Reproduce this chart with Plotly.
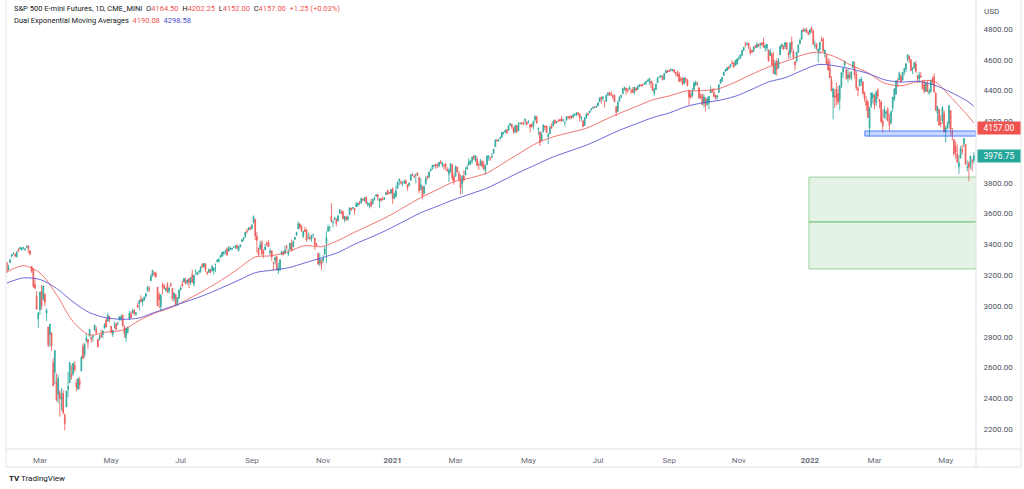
import pandas as pd
import plotly.graph_objects as go

# ---------------- data (daily bars: [open, high, low, close]) ----------------
holidays = ["2020-02-17", "2020-04-10", "2020-05-25", "2020-07-03", "2020-09-07", "2020-11-26",
            "2020-12-25", "2021-01-01", "2021-01-18", "2021-02-15", "2021-04-02", "2021-05-31",
            "2021-07-05", "2021-09-06", "2021-11-25", "2021-12-24", "2022-01-17", "2022-02-21",
            "2022-04-15"]

m2020_01 = [[3282, 3283, 3214, 3225]]
m2020_02 = [[3235, 3268, 3235, 3248], [3281, 3306, 3281, 3298], [3324, 3337, 3313, 3334], [3344, 3347, 3333, 3345],
            [3335, 3342, 3315, 3327], [3318, 3352, 3317, 3352], [3365, 3375, 3352, 3357], [3370, 3381, 3369, 3379],
            [3365, 3385, 3360, 3373], [3378, 3380, 3367, 3380], [3369, 3375, 3357, 3370], [3380, 3397, 3380, 3386],
            [3388, 3393, 3343, 3373], [3360, 3361, 3328, 3338], [3257, 3259, 3214, 3225], [3238, 3246, 3118, 3128],
            [3140, 3182, 3108, 3116], [3063, 3097, 2977, 2979], [2916, 2959, 2855, 2954]]
m2020_03 = [[2974, 3090, 2945, 3090], [3096, 3136, 2976, 3003], [3045, 3130, 3034, 3130], [3075, 3083, 2999, 3024],
            [2954, 2985, 2901, 2972], [2863, 2863, 2734, 2747], [2813, 2882, 2734, 2882], [2825, 2825, 2707, 2741],
            [2630, 2660, 2478, 2481], [2569, 2711, 2492, 2711], [2508, 2562, 2380, 2386], [2425, 2553, 2367, 2529],
            [2436, 2453, 2280, 2398], [2393, 2466, 2319, 2409], [2431, 2453, 2295, 2305], [2290, 2300, 2191, 2237],
            [2344, 2449, 2344, 2447], [2457, 2571, 2407, 2476], [2501, 2637, 2500, 2630], [2555, 2615, 2520, 2541],
            [2558, 2631, 2545, 2627], [2614, 2641, 2572, 2585]]
m2020_04 = [[2498, 2522, 2447, 2470], [2459, 2533, 2455, 2527], [2514, 2538, 2459, 2489], [2578, 2676, 2574, 2664],
            [2738, 2756, 2657, 2659], [2685, 2760, 2663, 2750], [2776, 2819, 2762, 2790], [2782, 2783, 2721, 2762],
            [2805, 2852, 2796, 2846], [2795, 2801, 2761, 2784], [2800, 2815, 2767, 2800], [2842, 2880, 2842, 2875],
            [2845, 2868, 2820, 2823], [2784, 2785, 2727, 2737], [2787, 2815, 2775, 2799], [2810, 2844, 2794, 2798],
            [2813, 2842, 2791, 2837], [2855, 2887, 2854, 2878], [2909, 2921, 2860, 2863], [2901, 2955, 2900, 2940],
            [2931, 2931, 2892, 2912]]
m2020_05 = [[2869, 2869, 2821, 2830], [2815, 2844, 2798, 2842], [2868, 2898, 2852, 2868], [2883, 2892, 2844, 2848],
            [2879, 2901, 2876, 2881], [2908, 2932, 2908, 2929], [2915, 2944, 2903, 2930], [2939, 2945, 2869, 2870],
            [2865, 2874, 2793, 2820], [2794, 2852, 2766, 2852], [2829, 2865, 2821, 2863], [2913, 2968, 2913, 2953],
            [2948, 2964, 2922, 2922], [2953, 2980, 2953, 2972], [2970, 2979, 2938, 2949], [2948, 2956, 2934, 2955],
            [3004, 3021, 2988, 2991], [3015, 3036, 2969, 3036], [3046, 3068, 3023, 3029], [3025, 3050, 2998, 3044]]
m2020_06 = [[3038, 3063, 3031, 3055], [3064, 3081, 3052, 3081], [3098, 3131, 3091, 3122], [3112, 3128, 3090, 3112],
            [3163, 3211, 3162, 3194], [3199, 3233, 3190, 3232], [3213, 3222, 3193, 3207], [3213, 3223, 3182, 3190],
            [3123, 3123, 2999, 3002], [3071, 3089, 2984, 3041], [2994, 3079, 2965, 3067], [3132, 3154, 3076, 3125],
            [3137, 3141, 3109, 3113], [3101, 3120, 3093, 3115], [3140, 3155, 3083, 3097], [3094, 3120, 3079, 3117],
            [3138, 3154, 3122, 3131], [3115, 3115, 3033, 3050], [3047, 3086, 3025, 3083], [3074, 3074, 3004, 3009],
            [3019, 3053, 2999, 3053], [3050, 3111, 3047, 3100]]
m2020_07 = [[3105, 3128, 3101, 3115], [3143, 3165, 3124, 3130], [3155, 3182, 3155, 3179], [3166, 3184, 3142, 3145],
            [3154, 3171, 3136, 3169], [3176, 3179, 3115, 3152], [3152, 3187, 3136, 3185], [3205, 3235, 3149, 3155],
            [3141, 3200, 3127, 3197], [3226, 3238, 3200, 3227], [3209, 3220, 3199, 3215], [3224, 3233, 3205, 3224],
            [3224, 3258, 3215, 3251], [3268, 3277, 3247, 3257], [3254, 3279, 3248, 3276], [3271, 3279, 3222, 3236],
            [3218, 3227, 3200, 3215], [3219, 3241, 3214, 3239], [3234, 3243, 3216, 3218], [3227, 3264, 3226, 3258],
            [3231, 3250, 3204, 3246], [3270, 3272, 3220, 3271]]
m2020_08 = [[3288, 3302, 3285, 3295], [3289, 3307, 3282, 3306], [3317, 3331, 3314, 3327], [3323, 3351, 3318, 3349],
            [3341, 3353, 3329, 3351], [3356, 3363, 3335, 3360], [3370, 3381, 3326, 3333], [3355, 3387, 3355, 3380],
            [3372, 3387, 3363, 3373], [3368, 3378, 3361, 3373], [3380, 3387, 3379, 3381], [3387, 3395, 3370, 3389],
            [3392, 3399, 3369, 3375], [3360, 3390, 3354, 3385], [3386, 3399, 3379, 3397], [3419, 3432, 3414, 3431],
            [3435, 3444, 3421, 3443], [3449, 3481, 3444, 3479], [3486, 3501, 3469, 3484], [3495, 3510, 3490, 3508],
            [3509, 3514, 3493, 3500]]
m2020_09 = [[3507, 3528, 3494, 3527], [3543, 3588, 3535, 3580], [3564, 3564, 3427, 3455], [3453, 3479, 3349, 3427],
            [3371, 3379, 3329, 3331], [3369, 3424, 3366, 3398], [3412, 3425, 3329, 3339], [3352, 3368, 3310, 3341],
            [3363, 3403, 3363, 3383], [3407, 3419, 3389, 3401], [3411, 3428, 3384, 3385], [3346, 3375, 3328, 3357],
            [3357, 3362, 3293, 3319], [3285, 3285, 3229, 3281], [3295, 3320, 3270, 3315], [3320, 3323, 3232, 3237],
            [3226, 3279, 3209, 3246], [3237, 3306, 3228, 3298], [3334, 3360, 3332, 3351], [3350, 3358, 3327, 3335],
            [3341, 3393, 3340, 3363]]
m2020_10 = [[3385, 3397, 3361, 3381], [3338, 3369, 3323, 3348], [3367, 3409, 3367, 3408], [3408, 3431, 3354, 3361],
            [3384, 3426, 3384, 3419], [3434, 3447, 3428, 3446], [3459, 3483, 3456, 3477], [3500, 3549, 3500, 3534],
            [3534, 3534, 3500, 3511], [3515, 3527, 3481, 3488], [3453, 3489, 3440, 3483], [3494, 3515, 3483, 3484],
            [3493, 3502, 3419, 3427], [3440, 3477, 3440, 3443], [3440, 3465, 3431, 3436], [3439, 3461, 3416, 3453],
            [3464, 3466, 3440, 3465], [3441, 3441, 3364, 3400], [3403, 3409, 3388, 3391], [3343, 3343, 3268, 3271],
            [3278, 3342, 3257, 3310], [3293, 3304, 3233, 3270]]
m2020_11 = [[3296, 3330, 3279, 3310], [3336, 3389, 3336, 3370], [3406, 3486, 3280, 3443], [3485, 3529, 3485, 3510],
            [3508, 3521, 3484, 3509], [3583, 3668, 3544, 3550], [3544, 3557, 3511, 3545], [3563, 3581, 3557, 3572],
            [3563, 3569, 3518, 3537], [3552, 3593, 3552, 3585], [3601, 3628, 3601, 3627], [3610, 3624, 3595, 3610],
            [3612, 3620, 3567, 3567], [3559, 3585, 3543, 3582], [3579, 3582, 3556, 3558], [3566, 3589, 3552, 3578],
            [3594, 3642, 3594, 3636], [3635, 3638, 3617, 3629], [3638, 3644, 3629, 3638], [3634, 3635, 3594, 3622]]
m2020_12 = [[3645, 3678, 3645, 3662], [3653, 3670, 3645, 3669], [3669, 3682, 3657, 3666], [3670, 3699, 3664, 3699],
            [3694, 3697, 3679, 3691], [3683, 3708, 3678, 3702], [3705, 3712, 3660, 3673], [3659, 3678, 3645, 3668],
            [3656, 3665, 3634, 3663], [3675, 3698, 3645, 3647], [3666, 3695, 3660, 3695], [3696, 3711, 3685, 3702],
            [3713, 3725, 3710, 3722], [3722, 3726, 3685, 3709], [3684, 3702, 3636, 3694], [3698, 3698, 3676, 3687],
            [3693, 3711, 3689, 3690], [3694, 3703, 3690, 3703], [3723, 3740, 3723, 3735], [3750, 3756, 3723, 3727],
            [3736, 3744, 3731, 3732], [3733, 3760, 3726, 3756]]
m2021_01 = [[3764, 3770, 3663, 3700], [3698, 3737, 3695, 3726], [3712, 3783, 3705, 3748], [3764, 3811, 3764, 3803],
            [3815, 3826, 3784, 3824], [3803, 3817, 3789, 3799], [3801, 3810, 3776, 3801], [3802, 3820, 3791, 3809],
            [3814, 3823, 3792, 3795], [3788, 3788, 3749, 3768], [3781, 3804, 3780, 3798], [3816, 3859, 3816, 3851],
            [3857, 3861, 3845, 3853], [3844, 3852, 3830, 3841], [3851, 3859, 3797, 3855], [3862, 3870, 3847, 3849],
            [3836, 3836, 3732, 3750], [3755, 3830, 3755, 3787], [3778, 3778, 3694, 3714]]
m2021_02 = [[3731, 3784, 3725, 3774], [3791, 3843, 3791, 3826], [3840, 3848, 3822, 3830], [3837, 3872, 3834, 3871],
            [3878, 3894, 3874, 3886], [3892, 3915, 3886, 3915], [3910, 3919, 3903, 3911], [3920, 3926, 3891, 3910],
            [3917, 3925, 3896, 3916], [3911, 3935, 3900, 3934], [3939, 3950, 3924, 3932], [3918, 3933, 3901, 3931],
            [3915, 3921, 3885, 3913], [3921, 3931, 3884, 3906], [3886, 3902, 3874, 3876], [3857, 3895, 3805, 3881],
            [3873, 3928, 3866, 3925], [3915, 3925, 3814, 3829], [3839, 3861, 3789, 3811]]
m2021_03 = [[3842, 3914, 3842, 3901], [3903, 3906, 3868, 3870], [3863, 3874, 3818, 3820], [3818, 3852, 3723, 3768],
            [3794, 3851, 3730, 3841], [3844, 3881, 3808, 3821], [3851, 3904, 3851, 3875], [3891, 3918, 3885, 3898],
            [3915, 3960, 3915, 3939], [3924, 3944, 3916, 3943], [3942, 3970, 3924, 3968], [3973, 3981, 3949, 3962],
            [3949, 3983, 3935, 3974], [3953, 3969, 3910, 3915], [3913, 3930, 3884, 3913], [3916, 3956, 3910, 3940],
            [3937, 3950, 3901, 3910], [3919, 3942, 3889, 3889], [3879, 3919, 3853, 3909], [3917, 3978, 3917, 3974],
            [3969, 3981, 3943, 3971], [3963, 3968, 3944, 3958], [3967, 3994, 3966, 3972]]
m2021_04 = [[3992, 4020, 3992, 4019], [4034, 4083, 4034, 4077], [4076, 4086, 4068, 4073], [4075, 4083, 4068, 4079],
            [4089, 4098, 4082, 4097], [4096, 4129, 4095, 4128], [4124, 4131, 4114, 4127], [4131, 4148, 4124, 4141],
            [4141, 4151, 4120, 4124], [4140, 4173, 4140, 4170], [4174, 4191, 4171, 4185], [4180, 4180, 4150, 4163],
            [4159, 4160, 4118, 4134], [4128, 4175, 4126, 4173], [4170, 4179, 4123, 4135], [4138, 4194, 4138, 4180],
            [4185, 4194, 4182, 4187], [4188, 4193, 4176, 4186], [4185, 4201, 4181, 4183], [4206, 4219, 4177, 4211],
            [4198, 4198, 4174, 4181]]
m2021_05 = [[4191, 4209, 4188, 4192], [4179, 4179, 4128, 4164], [4177, 4187, 4158, 4167], [4170, 4202, 4147, 4201],
            [4210, 4238, 4201, 4232], [4228, 4236, 4188, 4188], [4150, 4162, 4111, 4152], [4130, 4134, 4040, 4063],
            [4074, 4131, 4074, 4112], [4130, 4183, 4130, 4174], [4169, 4171, 4143, 4163], [4169, 4170, 4125, 4128],
            [4098, 4125, 4052, 4116], [4121, 4173, 4118, 4159], [4168, 4188, 4151, 4156], [4170, 4210, 4170, 4197],
            [4205, 4213, 4182, 4188], [4191, 4202, 4188, 4195], [4201, 4213, 4198, 4200], [4210, 4218, 4203, 4204]]
m2021_06 = [[4216, 4234, 4197, 4202], [4207, 4217, 4198, 4208], [4191, 4204, 4168, 4192], [4207, 4233, 4207, 4230],
            [4229, 4232, 4215, 4226], [4233, 4236, 4210, 4227], [4233, 4238, 4219, 4220], [4229, 4249, 4221, 4239],
            [4243, 4249, 4233, 4247], [4248, 4255, 4234, 4255], [4255, 4257, 4238, 4246], [4248, 4251, 4196, 4223],
            [4220, 4233, 4203, 4222], [4204, 4204, 4164, 4166], [4174, 4226, 4174, 4224], [4225, 4256, 4217, 4246],
            [4249, 4256, 4241, 4242], [4256, 4271, 4256, 4266], [4274, 4286, 4271, 4280], [4285, 4292, 4281, 4291],
            [4293, 4300, 4287, 4291], [4291, 4302, 4287, 4297]]
m2021_07 = [[4300, 4321, 4300, 4320], [4327, 4355, 4326, 4352], [4357, 4359, 4314, 4344], [4351, 4362, 4334, 4358],
            [4322, 4336, 4290, 4321], [4330, 4372, 4330, 4370], [4373, 4387, 4363, 4385], [4381, 4393, 4367, 4369],
            [4380, 4393, 4363, 4375], [4369, 4369, 4341, 4360], [4368, 4375, 4323, 4327], [4297, 4297, 4233, 4259],
            [4265, 4336, 4260, 4323], [4331, 4359, 4329, 4359], [4361, 4369, 4351, 4368], [4382, 4415, 4373, 4412],
            [4409, 4422, 4398, 4422], [4416, 4416, 4372, 4402], [4402, 4415, 4387, 4401], [4410, 4430, 4403, 4419],
            [4396, 4412, 4378, 4395]]
m2021_08 = [[4406, 4422, 4384, 4387], [4392, 4423, 4373, 4423], [4416, 4417, 4399, 4402], [4407, 4430, 4405, 4429],
            [4429, 4440, 4422, 4437], [4437, 4440, 4425, 4432], [4437, 4445, 4429, 4436], [4442, 4450, 4436, 4448],
            [4447, 4461, 4436, 4460], [4464, 4468, 4457, 4468], [4461, 4480, 4437, 4479], [4462, 4462, 4417, 4448],
            [4440, 4455, 4397, 4400], [4382, 4418, 4367, 4406], [4406, 4444, 4405, 4442], [4450, 4489, 4450, 4480],
            [4484, 4492, 4482, 4486], [4490, 4501, 4486, 4497], [4493, 4496, 4469, 4470], [4474, 4513, 4466, 4509],
            [4514, 4537, 4513, 4529], [4529, 4532, 4515, 4523]]
m2021_09 = [[4529, 4538, 4523, 4524], [4534, 4545, 4524, 4537], [4533, 4540, 4525, 4535], [4536, 4536, 4513, 4520],
            [4518, 4521, 4493, 4514], [4513, 4529, 4493, 4493], [4506, 4521, 4457, 4458], [4474, 4491, 4456, 4469],
            [4479, 4485, 4435, 4443], [4447, 4486, 4439, 4481], [4477, 4485, 4448, 4474], [4470, 4471, 4427, 4433],
            [4403, 4403, 4306, 4358], [4375, 4394, 4347, 4354], [4368, 4416, 4358, 4396], [4407, 4457, 4407, 4449],
            [4438, 4463, 4429, 4455], [4443, 4457, 4428, 4443], [4419, 4419, 4346, 4353], [4363, 4381, 4345, 4360],
            [4370, 4383, 4306, 4308]]
m2021_10 = [[4317, 4375, 4289, 4357], [4348, 4356, 4265, 4300], [4310, 4358, 4303, 4345], [4319, 4365, 4278, 4363],
            [4384, 4429, 4384, 4399], [4406, 4413, 4386, 4391], [4385, 4415, 4360, 4361], [4368, 4374, 4342, 4350],
            [4358, 4372, 4340, 4364], [4387, 4439, 4387, 4438], [4447, 4475, 4447, 4471], [4464, 4488, 4453, 4486],
            [4497, 4520, 4496, 4520], [4524, 4540, 4524, 4537], [4532, 4551, 4527, 4549], [4550, 4560, 4538, 4545],
            [4553, 4572, 4547, 4567], [4579, 4598, 4569, 4575], [4580, 4584, 4551, 4551], [4563, 4598, 4563, 4596],
            [4573, 4608, 4567, 4605]]
m2021_11 = [[4610, 4620, 4595, 4614], [4613, 4635, 4604, 4631], [4630, 4664, 4623, 4660], [4662, 4684, 4657, 4680],
            [4699, 4718, 4681, 4697], [4701, 4714, 4694, 4702], [4707, 4708, 4670, 4685], [4670, 4685, 4630, 4646],
            [4659, 4665, 4647, 4649], [4655, 4688, 4650, 4682], [4689, 4697, 4673, 4682], [4680, 4714, 4679, 4700],
            [4701, 4701, 4684, 4688], [4700, 4708, 4672, 4704], [4708, 4717, 4694, 4698], [4712, 4743, 4680, 4682],
            [4679, 4699, 4652, 4690], [4675, 4702, 4659, 4701], [4664, 4664, 4586, 4595], [4628, 4672, 4625, 4655],
            [4640, 4646, 4560, 4567]]
m2021_12 = [[4602, 4652, 4510, 4513], [4505, 4595, 4504, 4577], [4590, 4608, 4495, 4538], [4548, 4612, 4541, 4592],
            [4632, 4694, 4632, 4686], [4690, 4705, 4671, 4701], [4691, 4695, 4665, 4668], [4688, 4713, 4670, 4712],
            [4710, 4711, 4666, 4669], [4642, 4660, 4606, 4634], [4637, 4712, 4611, 4709], [4719, 4751, 4647, 4668],
            [4652, 4666, 4600, 4620], [4587, 4591, 4531, 4568], [4594, 4651, 4583, 4649], [4650, 4698, 4645, 4697],
            [4703, 4740, 4703, 4725], [4733, 4791, 4733, 4791], [4795, 4807, 4780, 4786], [4788, 4804, 4778, 4793],
            [4795, 4808, 4775, 4778], [4775, 4787, 4765, 4766]]
m2022_01 = [[4778, 4797, 4758, 4797], [4804, 4818, 4774, 4793], [4787, 4797, 4700, 4701], [4693, 4725, 4671, 4696],
            [4698, 4708, 4663, 4677], [4656, 4673, 4582, 4670], [4670, 4714, 4637, 4713], [4728, 4749, 4718, 4726],
            [4733, 4745, 4650, 4660], [4638, 4665, 4614, 4663], [4632, 4633, 4568, 4577], [4588, 4612, 4531, 4533],
            [4547, 4603, 4477, 4483], [4471, 4494, 4395, 4398], [4357, 4418, 4212, 4410], [4366, 4411, 4287, 4357],
            [4408, 4453, 4305, 4350], [4380, 4428, 4309, 4326], [4337, 4432, 4273, 4432], [4431, 4516, 4415, 4516]]
m2022_02 = [[4519, 4546, 4483, 4546], [4566, 4595, 4544, 4589], [4536, 4542, 4471, 4477], [4482, 4540, 4451, 4501],
            [4505, 4521, 4470, 4484], [4481, 4525, 4465, 4521], [4548, 4590, 4548, 4587], [4554, 4588, 4478, 4504],
            [4507, 4527, 4402, 4419], [4412, 4427, 4364, 4402], [4430, 4472, 4429, 4472], [4456, 4490, 4430, 4475],
            [4457, 4457, 4374, 4380], [4384, 4394, 4328, 4349], [4332, 4363, 4268, 4305], [4325, 4340, 4222, 4226],
            [4156, 4295, 4101, 4288], [4298, 4385, 4287, 4385], [4354, 4389, 4317, 4374]]
m2022_03 = [[4363, 4375, 4279, 4306], [4322, 4401, 4298, 4387], [4401, 4416, 4345, 4364], [4342, 4343, 4285, 4329],
            [4327, 4327, 4189, 4201], [4202, 4276, 4129, 4171], [4223, 4299, 4223, 4278], [4253, 4268, 4210, 4260],
            [4279, 4292, 4200, 4204], [4202, 4248, 4136, 4173], [4188, 4271, 4187, 4262], [4289, 4357, 4262, 4358],
            [4345, 4412, 4330, 4412], [4377, 4465, 4372, 4463], [4462, 4481, 4424, 4462], [4469, 4522, 4469, 4512],
            [4493, 4502, 4455, 4456], [4469, 4520, 4465, 4520], [4523, 4546, 4501, 4543], [4541, 4575, 4518, 4575],
            [4603, 4637, 4585, 4632], [4624, 4627, 4581, 4602], [4600, 4603, 4530, 4530]]
m2022_04 = [[4540, 4549, 4507, 4545], [4547, 4583, 4539, 4583], [4572, 4593, 4514, 4525], [4495, 4503, 4450, 4481],
            [4475, 4521, 4450, 4500], [4494, 4521, 4485, 4488], [4462, 4464, 4408, 4413], [4437, 4471, 4381, 4397],
            [4395, 4453, 4392, 4447], [4449, 4461, 4390, 4392], [4385, 4410, 4370, 4391], [4390, 4471, 4390, 4463],
            [4473, 4489, 4441, 4459], [4489, 4512, 4384, 4394], [4385, 4385, 4267, 4272], [4255, 4299, 4200, 4297],
            [4278, 4278, 4175, 4175], [4187, 4240, 4162, 4183], [4207, 4300, 4184, 4288], [4253, 4270, 4131, 4132]]
m2022_05 = [[4130, 4169, 4062, 4155], [4159, 4200, 4147, 4175], [4181, 4308, 4152, 4300], [4270, 4270, 4106, 4147],
            [4129, 4158, 4077, 4123], [4081, 4081, 3975, 3991], [4035, 4068, 3957, 4001], [3991, 4050, 3928, 3936],
            [3904, 3981, 3859, 3930], [3963, 4039, 3957, 4024], [4013, 4047, 3984, 4008], [4053, 4090, 4032, 4088],
            [4051, 4052, 3914, 3924], [3900, 3946, 3875, 3901], [3927, 3943, 3810, 3901], [3919, 3976, 3890, 3974],
            [3942, 3955, 3875, 3941], [3945, 3999, 3925, 3976.75]]

# Dual EMA values read every 10th bar (plus the last bar)
ema_fast = [3220, 3262, 3215, 3074, 2898, 2811, 2830, 2843, 2906, 2956,
            2992, 3047, 3106, 3171, 3243, 3318, 3326, 3353, 3392, 3385,
            3425, 3479, 3529, 3581, 3642, 3704, 3756, 3807, 3832, 3864,
            3929, 3995, 4058, 4099, 4127, 4155, 4204, 4252, 4296, 4339,
            4365, 4396, 4399, 4412, 4455, 4506, 4553, 4589, 4630, 4650,
            4620, 4564, 4516, 4448, 4431, 4458, 4461, 4358, 4241, 4190.08]
ema_slow = [3149, 3182, 3172, 3114, 3026, 2956, 2923, 2913, 2922, 2961,
            2998, 3034, 3073, 3119, 3167, 3216, 3232, 3248, 3280, 3312,
            3347, 3401, 3447, 3496, 3551, 3606, 3648, 3691, 3728, 3766,
            3818, 3871, 3920, 3969, 4007, 4045, 4093, 4142, 4183, 4224,
            4254, 4295, 4320, 4336, 4363, 4408, 4456, 4483, 4529, 4569,
            4561, 4540, 4511, 4470, 4455, 4460, 4436, 4389, 4332, 4298.58]

tick_months = ["2020-03", "2020-05", "2020-07", "2020-09", "2020-11", "2021-01", "2021-03",
               "2021-05", "2021-07", "2021-09", "2021-11", "2022-01", "2022-03", "2022-05"]
tick_text = ["Mar", "May", "Jul", "Sep", "Nov", "<b>2021</b>", "Mar",
             "May", "Jul", "Sep", "Nov", "<b>2022</b>", "Mar", "May"]

price_ticks = [2200, 2400, 2600, 2800, 3000, 3200, 3400, 3600, 3800, 4000, 4200, 4400, 4600, 4800]

green_zones = [(3546, 3838), (3240, 3546)]
green_zone_start = "2021-12-31"
blue_zone = (4104, 4137)
blue_zone_start = "2022-02-18"
red_badge_value = 4157.00
last_price = 3976.75

# ---------------- build ----------------
dates = [d for d in pd.bdate_range("2020-01-31", "2022-05-25") if d.strftime("%Y-%m-%d") not in holidays]
months = [m2020_01, m2020_02, m2020_03, m2020_04, m2020_05, m2020_06, m2020_07, m2020_08, m2020_09,
          m2020_10, m2020_11, m2020_12, m2021_01, m2021_02, m2021_03, m2021_04, m2021_05, m2021_06,
          m2021_07, m2021_08, m2021_09, m2021_10, m2021_11, m2021_12, m2022_01, m2022_02, m2022_03,
          m2022_04, m2022_05]
bars = [row for m in months for row in m]
assert len(bars) == len(dates), (len(bars), len(dates))

n = len(dates)
xs = list(range(n))
opens = [b[0] for b in bars]
highs = [b[1] for b in bars]
lows = [b[2] for b in bars]
closes = [b[3] for b in bars]
ema_x = list(range(0, n - 4, 10)) + [n - 1]
ema_x = ema_x[:len(ema_fast)]

date_str = [d.strftime("%Y-%m-%d") for d in dates]
ym = [d.strftime("%Y-%m") for d in dates]
tickvals = [ym.index(m) for m in tick_months]

UP = "#26a69a"
DOWN = "#ef5350"
FONT = "Roboto"

fig = go.Figure()
fig.add_trace(go.Candlestick(
    x=xs, open=opens, high=highs, low=lows, close=closes,
    increasing=dict(line=dict(color=UP, width=0.8), fillcolor="rgba(38,166,154,0.75)"),
    decreasing=dict(line=dict(color=DOWN, width=0.8), fillcolor="rgba(239,83,80,0.75)"),
    whiskerwidth=0, showlegend=False, hoverinfo="skip"))
fig.add_trace(go.Scatter(x=ema_x, y=ema_fast, mode="lines",
                         line=dict(color="rgba(239,83,80,0.8)", width=1, shape="spline", smoothing=0.8),
                         showlegend=False, hoverinfo="skip"))
fig.add_trace(go.Scatter(x=ema_x, y=ema_slow, mode="lines",
                         line=dict(color="rgba(80,80,210,0.85)", width=1, shape="spline", smoothing=0.8),
                         showlegend=False, hoverinfo="skip"))

shapes = []
gx0 = date_str.index(green_zone_start) + 0.4
for lo, hi in green_zones:
    shapes.append(dict(type="rect", xref="x", yref="y", x0=gx0, x1=n + 2, y0=lo, y1=hi,
                       fillcolor="rgba(76,175,80,0.15)", line=dict(color="rgba(76,175,80,0.5)", width=1),
                       layer="above"))
bx0 = date_str.index(blue_zone_start) + 0.2
shapes.append(dict(type="rect", xref="x", yref="y", x0=bx0, x1=n + 0.2, y0=blue_zone[0], y1=blue_zone[1],
                   fillcolor="rgba(41,98,255,0.25)", line=dict(color="rgba(41,98,255,0.8)", width=1),
                   layer="above"))

# frame lines (pixel -> paper)
W_PLOT, H_PLOT, L, T = 970, 449, 6, 0
def px(x):
    return (x - L) / W_PLOT
def py(y):
    return (H_PLOT - y) / H_PLOT
FRAME = "#e0e3eb"
shapes += [
    dict(type="line", xref="paper", yref="paper", x0=0, x1=0, y0=1, y1=py(467), line=dict(color=FRAME, width=1)),
    dict(type="line", xref="paper", yref="paper", x0=1, x1=1, y0=1, y1=py(467), line=dict(color=FRAME, width=1)),
    dict(type="line", xref="paper", yref="paper", x0=px(1021), x1=px(1021), y0=1, y1=py(467), line=dict(color=FRAME, width=1)),
    dict(type="line", xref="paper", yref="paper", x0=0, x1=px(1021), y0=0, y1=0, line=dict(color=FRAME, width=1)),
    dict(type="line", xref="paper", yref="paper", x0=0, x1=px(1021), y0=py(467), y1=py(467), line=dict(color=FRAME, width=1)),
]

TXT = "#131722"
nb = "\u00a0"
hdr1 = ("S&amp;P 500 E-mini Futures, 1D, CME_MINI" + nb * 2 +
        f"O<span style='color:{DOWN}'>4164.50</span>" + nb * 2 +
        f"H<span style='color:{DOWN}'>4202.25</span>" + nb * 2 +
        f"L<span style='color:{DOWN}'>4152.00</span>" + nb * 2 +
        f"C<span style='color:{DOWN}'>4157.00</span>" + nb * 2 +
        f"<span style='color:{DOWN}'>+1.25 (+0.03%)</span>")
hdr2 = ("Dual Exponential Moving Averages" + nb * 2 +
        f"<span style='color:{DOWN}'>4190.08</span>" + nb * 2 +
        "<span style='color:#4a4ad0'>4298.58</span>")

annotations = [
    dict(x=px(12), y=py(9), xref="paper", yref="paper", xanchor="left", yanchor="middle", showarrow=False,
         text=hdr1, font=dict(family=FONT, size=7.5, color=TXT)),
    dict(x=px(12), y=py(21), xref="paper", yref="paper", xanchor="left", yanchor="middle", showarrow=False,
         text=hdr2, font=dict(family=FONT, size=7.5, color=TXT)),
    dict(x=px(982), y=py(12), xref="paper", yref="paper", xanchor="left", yanchor="middle", showarrow=False,
         text="USD", font=dict(family=FONT, size=8, color="#4c525e")),
    dict(x=px(977), y=red_badge_value, xref="paper", yref="y", xanchor="left", yanchor="middle", showarrow=False,
         text=f"{red_badge_value:.2f}", font=dict(family=FONT, size=8.5, color="white"),
         bgcolor=DOWN, width=40, height=10, borderpad=1, align="center"),
    dict(x=px(977), y=last_price, xref="paper", yref="y", xanchor="left", yanchor="middle", showarrow=False,
         text=f"{last_price:.2f}", font=dict(family=FONT, size=8.5, color="white"),
         bgcolor=UP, width=40, height=10, borderpad=1, align="center"),
    dict(x=px(7), y=py(478), xref="paper", yref="paper", xanchor="left", yanchor="middle", showarrow=False,
         text="<b>TV</b> TradingView", font=dict(family=FONT, size=8, color=TXT)),
]

fig.update_layout(
    width=1024, height=489, margin=dict(l=L, r=1024 - L - W_PLOT, t=T, b=489 - H_PLOT),
    paper_bgcolor="white", plot_bgcolor="white", showlegend=False,
    shapes=shapes, annotations=annotations, hovermode=False,
    xaxis=dict(range=[-0.5, 585.3], rangeslider=dict(visible=False), showgrid=False, zeroline=False,
               tickmode="array", tickvals=tickvals, ticktext=tick_text, ticks="outside", ticklen=3,
               tickcolor="rgba(0,0,0,0)", tickfont=dict(family=FONT, size=8, color="#6a6d78"),
               showline=False, fixedrange=True),
    yaxis=dict(side="right", range=[2070, 4988.5], showgrid=False, zeroline=False,
               tickmode="array", tickvals=price_ticks, ticktext=[f"{v:.2f}" for v in price_ticks],
               ticks="outside", ticklen=5, tickcolor="rgba(0,0,0,0)",
               tickfont=dict(family=FONT, size=8, color="#4c525e"), showline=False, fixedrange=True),
)

fig.write_html("out.html")
